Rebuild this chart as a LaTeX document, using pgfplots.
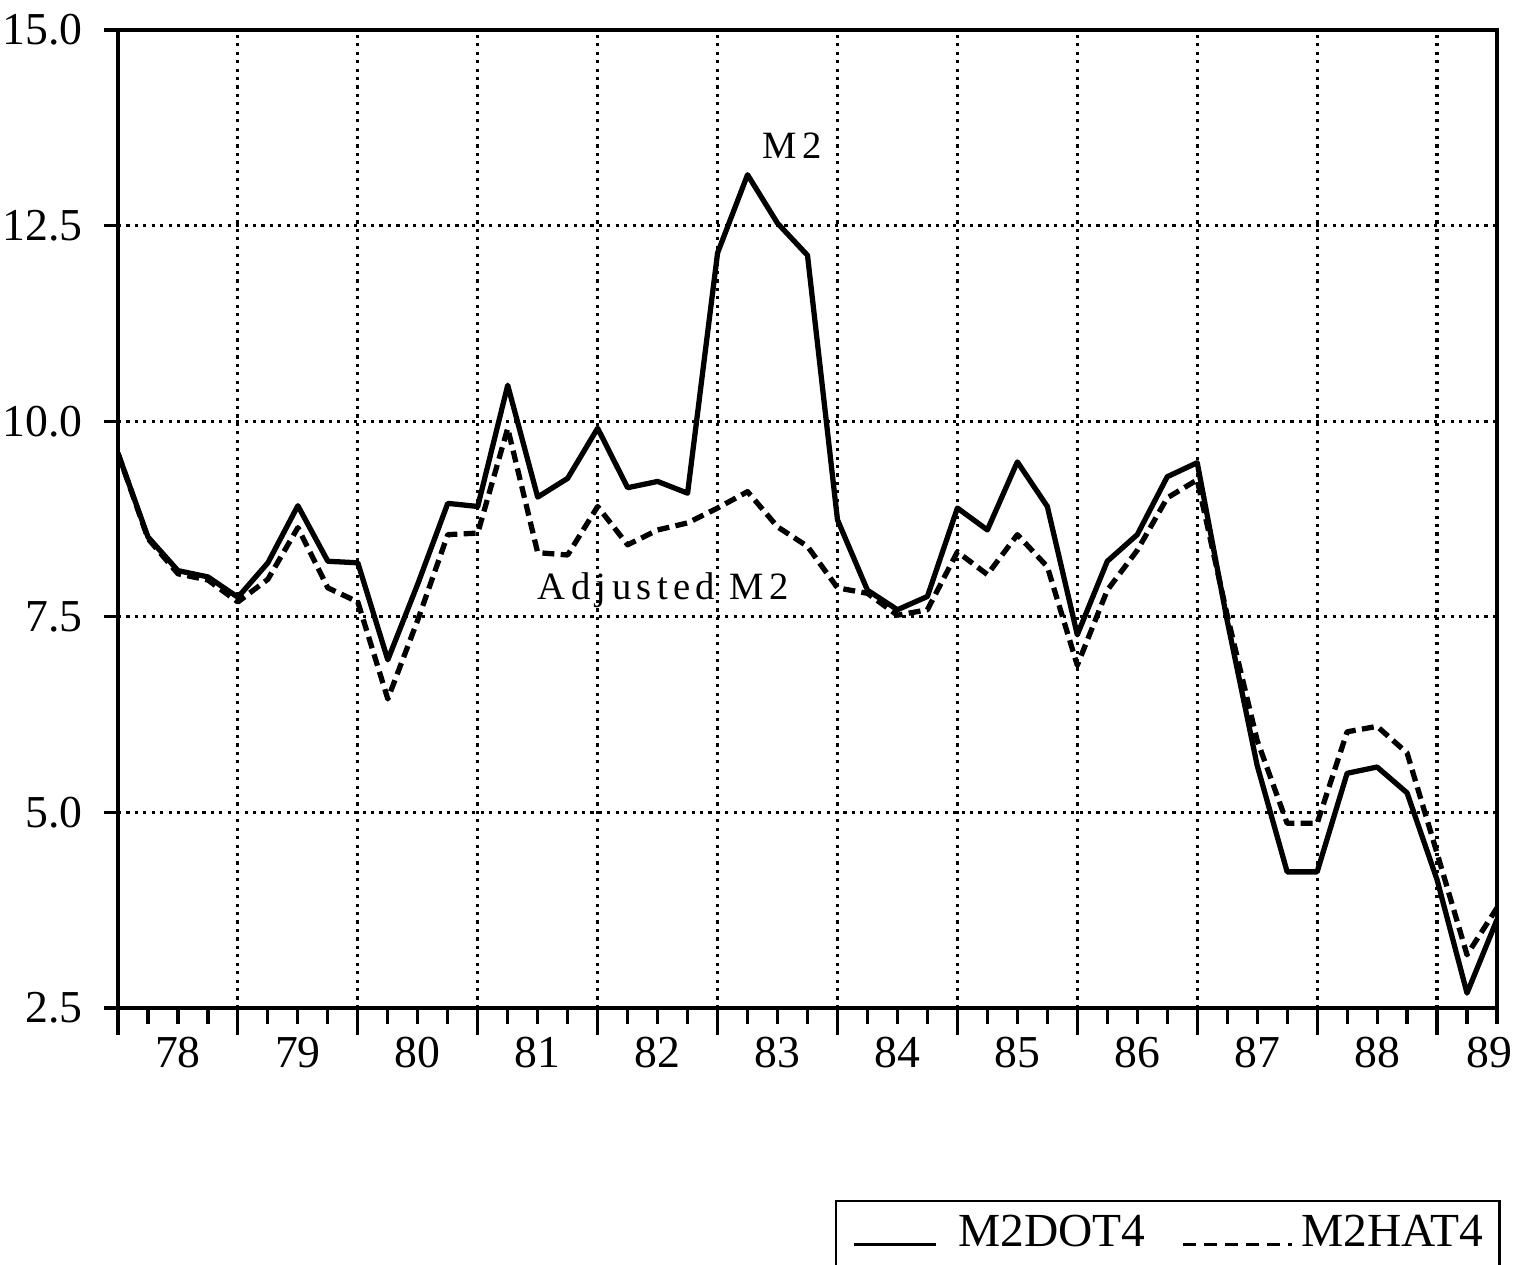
\documentclass[border=0pt]{standalone}
\usepackage{fontspec}
\setmainfont{Liberation Serif}
\newfontfamily\labelfont[LetterSpace=14]{Liberation Serif}
\usepackage{pgfplots}
\pgfplotsset{compat=1.18}
\begin{document}
\begin{tikzpicture}
\path[use as bounding box] (0,0) rectangle (15.13cm,12.64cm);
% y ticks and labels (shorter ticks)
\begin{axis}[
  at={(1.18cm,2.56cm)}, anchor=south west,
  scale only axis, width=13.79cm, height=9.78cm,
  xmin=0, xmax=46, ymin=2.5, ymax=15,
  axis line style={draw=none},
  xtick=\empty,
  tick align=outside, ytick pos=left,
  major tick length=0.14cm,
  tick style={line width=0.9pt, black},
  ytick={2.5,5,7.5,10,12.5,15},
  yticklabel style={/pgf/number format/fixed, /pgf/number format/fixed zerofill, /pgf/number format/precision=1, xshift=-0.09cm},
  /pgf/number format/assume math mode=true,
  tick label style={font=\fontsize{13}{13}\selectfont},
]
\end{axis}
\begin{axis}[
  at={(1.18cm,2.56cm)}, anchor=south west,
  scale only axis, width=13.79cm, height=9.78cm,
  xmin=0, xmax=46, ymin=2.5, ymax=15,
  axis line style={line width=1.4pt},
  tick align=outside, xtick pos=bottom, ytick pos=left,
  major tick length=0.27cm, minor tick length=0.16cm,
  xtick={0,4,...,44},
  xticklabels={},
  minor xtick={1,2,3,5,6,7,9,10,11,13,14,15,17,18,19,21,22,23,25,26,27,29,30,31,33,34,35,37,38,39,41,42,43,45,46},
  tick style={line width=0.9pt, black},
  ytick={5,7.5,10,12.5},
  yticklabels={},
  ytick style={draw=none},
  tick label style={font=\fontsize{13}{13}\selectfont},
  extra x ticks={2,6,10,14,18,22,26,30,34,38,42,45.76},
  extra x tick labels={78,79,80,81,82,83,84,85,86,87,88,89},
  extra x tick style={grid=none, major tick length=0pt, xticklabel style={yshift=-0.17cm}},
  xmajorgrids, ymajorgrids,
  grid style={black, line width=0.9pt, dash pattern=on 0.9pt off 1.5pt},
  legend columns=2,
  legend style={at={(0.52,-0.1963)}, anchor=north west, draw=black, line width=0.6pt,
    inner xsep=0.16cm, inner ysep=0pt, font=\fontsize{13.5}{13.5}\selectfont,
    column sep=0pt, cells={anchor=base west},
    nodes={inner sep=0pt, text height=13pt, text depth=9pt}},
]
\addplot[black, line width=1.5pt, line join=round,
  legend image code/.code={\draw[black, line width=0.8pt, solid] (0cm,0.7pt) -- (0.82cm,0.7pt); \path (1.02cm,0pt);}]
  table[row sep=\\] {
x y\\
0 9.59\\ 1 8.52\\ 2 8.09\\ 3 8.01\\ 4 7.75\\ 5 8.19\\ 6 8.92\\ 7 8.21\\ 8 8.19\\ 9 6.95\\
10 7.92\\ 11 8.95\\ 12 8.91\\ 13 10.46\\ 14 9.03\\ 15 9.27\\ 16 9.91\\ 17 9.15\\ 18 9.23\\ 19 9.08\\
20 12.15\\ 21 13.15\\ 22 12.53\\ 23 12.12\\ 24 8.74\\ 25 7.84\\ 26 7.59\\ 27 7.76\\ 28 8.89\\ 29 8.61\\
30 9.48\\ 31 8.91\\ 32 7.27\\ 33 8.21\\ 34 8.55\\ 35 9.29\\ 36 9.47\\ 37 7.45\\ 38 5.60\\ 39 4.24\\
40 4.24\\ 41 5.50\\ 42 5.58\\ 43 5.25\\ 44 4.14\\ 45 2.69\\ 46 3.63\\
};
\addlegendentry{M2DOT4}
\addplot[black, line width=1.5pt, line join=round, dash pattern=on 3.4pt off 1.8pt,
  legend image code/.code={\draw[black, line width=0.8pt, dash pattern=on 3.6pt off 2.4pt] (0.35cm,0.7pt) -- (1.44cm,0.7pt); \path (0cm,0pt) (1.51cm,0pt);}]
  table[row sep=\\] {
x y\\
0 9.59\\ 1 8.50\\ 2 8.05\\ 3 7.97\\ 4 7.69\\ 5 7.98\\ 6 8.64\\ 7 7.87\\ 8 7.69\\ 9 6.45\\
10 7.46\\ 11 8.55\\ 12 8.57\\ 13 9.91\\ 14 8.32\\ 15 8.29\\ 16 8.91\\ 17 8.42\\ 18 8.61\\ 19 8.70\\
20 8.89\\ 21 9.10\\ 22 8.65\\ 23 8.40\\ 24 7.87\\ 25 7.80\\ 26 7.52\\ 27 7.59\\ 28 8.33\\ 29 8.04\\
30 8.55\\ 31 8.14\\ 32 6.88\\ 33 7.84\\ 34 8.35\\ 35 9.02\\ 36 9.25\\ 37 7.52\\ 38 5.92\\ 39 4.86\\
40 4.86\\ 41 6.03\\ 42 6.10\\ 43 5.76\\ 44 4.48\\ 45 3.18\\ 46 3.78\\
};
\addlegendentry{M2HAT4\hspace{0.13cm}}
\node[anchor=base west, inner sep=0pt, font=\labelfont\fontsize{11}{11}\selectfont] at (axis cs:21.48,13.36) {M2};
\node[anchor=base west, inner sep=0pt, font=\labelfont\fontsize{11}{11}\selectfont] at (axis cs:13.98,7.72) {Adjusted\hspace{4pt}M2};
\end{axis}
\end{tikzpicture}
\end{document}
